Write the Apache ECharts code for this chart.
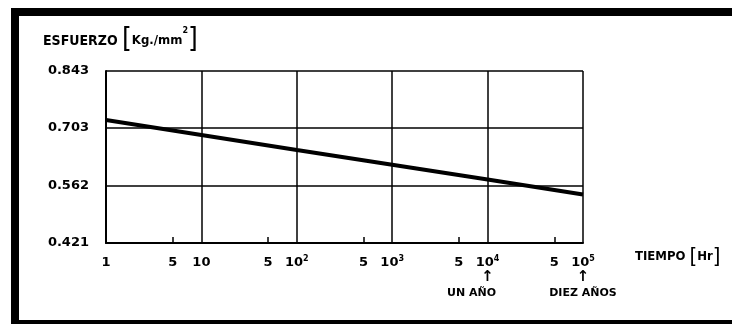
<!DOCTYPE html>
<html>
<head>
<meta charset="utf-8">
<script src="https://cdn.jsdelivr.net/npm/echarts@6/dist/echarts.min.js"></script>
<style>
html, body { margin: 0; padding: 0; background: #fff; }
#chart { width: 732px; height: 324px; }
</style>
</head>
<body>
<div id="chart"></div>
<script>
// tiempo [Hr] y esfuerzo [Kg./mm2]
const tiempo = [1, 10, 100, 1000, 10000, 100000];
const esfuerzo = [0.723, 0.686, 0.649, 0.613, 0.577, 0.540];

const yTicks = [0.421, 0.562, 0.703, 0.843];
const yTickLabels = ['0.421', '0.562', '0.703', '0.843'];

const xDecadeLabels = [
  '1', '10', '10{s|2}', '10{s|3}',
  '10{s|4}\n{ar|↑}\n{an1|UN AÑO}',
  '10{s|5}\n{ar|↑}\n{an|DIEZ AÑOS}'
];
const xMinorTicks = [5, 50, 500, 5000, 50000];
const xMinorLabel = '5';

const FONT = 'DejaVu Sans';
const FONT_C = 'DejaVu Sans Condensed';
const chart = echarts.init(document.getElementById('chart'));

const labelStyle = { color: '#000', fontFamily: FONT, fontSize: 13, fontWeight: 'bold' };

const option = {
  animation: false,
  backgroundColor: '#fff',
  title: {
    text: 'ESFUERZO {br|[}{u|Kg./mm}{s|2}{br|]}',
    left: 38,
    top: 22,
    textStyle: {
      color: '#000', fontFamily: FONT_C, fontSize: 14, fontWeight: 'bold',
      rich: {
        br: { fontSize: 28, fontWeight: 'normal', color: '#000', fontFamily: FONT_C },
        u: { fontSize: 13, fontWeight: 'bold', color: '#000', fontFamily: FONT_C },
        s: { fontSize: 8, fontWeight: 'bold', color: '#000', fontFamily: FONT, verticalAlign: 'top', padding: [0, 0, 12, 0] }
      }
    }
  },
  grid: { left: 106, right: 149, top: 71, bottom: 81 },
  graphic: [
    { type: 'rect', shape: { x: 11, y: 8, width: 721, height: 8 }, style: { fill: '#000' } },
    { type: 'rect', shape: { x: 11, y: 8, width: 8, height: 316 }, style: { fill: '#000' } },
    { type: 'rect', shape: { x: 11, y: 320, width: 721, height: 4 }, style: { fill: '#000' } }
  ],
  xAxis: [
    {
      type: 'log',
      logBase: 10,
      min: 1,
      max: 100000,
      name: 'TIEMPO {br|[}Hr{br|]}',
      nameLocation: 'end',
      nameGap: 52,
      nameTextStyle: {
        color: '#000', fontFamily: FONT_C, fontSize: 13, fontWeight: 'bold',
        verticalAlign: 'top', padding: [3, 0, 0, 0],
        rich: {
          br: { fontSize: 22, fontWeight: 'normal', color: '#000', fontFamily: FONT_C }
        }
      },
      axisLine: { show: true, lineStyle: { color: '#000', width: 2 } },
      axisTick: { show: false },
      splitLine: { show: true, lineStyle: { color: '#000', width: 1.5 } },
      axisLabel: Object.assign({}, labelStyle, {
        margin: 12,
        lineHeight: 15,
        formatter: function (v) {
          return xDecadeLabels[Math.round(Math.log10(v))];
        },
        rich: {
          s: { fontSize: 8, fontWeight: 'bold', color: '#000', fontFamily: FONT, verticalAlign: 'top', padding: [0, 0, 8, 0] },
          ar: { fontSize: 15, color: '#000', fontFamily: FONT, lineHeight: 15 },
          an: { fontSize: 11, fontWeight: 'bold', color: '#000', fontFamily: FONT, lineHeight: 17 },
          an1: { fontSize: 11, fontWeight: 'bold', color: '#000', fontFamily: FONT, lineHeight: 17, padding: [0, 32, 0, 0] }
        }
      })
    },
    {
      type: 'log',
      logBase: 10,
      min: 1,
      max: 100000,
      position: 'bottom',
      axisLine: { show: false },
      splitLine: { show: false },
      axisTick: { show: true, inside: true, length: 6, customValues: xMinorTicks, lineStyle: { color: '#000', width: 1.5 } },
      axisLabel: Object.assign({}, labelStyle, {
        margin: 13,
        customValues: xMinorTicks,
        formatter: function () { return xMinorLabel; }
      })
    }
  ],
  yAxis: {
    type: 'value',
    min: 0.421,
    max: 0.843,
    axisLine: { show: true, lineStyle: { color: '#000', width: 2 } },
    axisTick: { show: false, customValues: yTicks },
    splitLine: { show: true, lineStyle: { color: '#000', width: 1.5 } },
    axisLabel: Object.assign({}, labelStyle, {
      margin: 17,
      customValues: yTicks,
      formatter: function (v) {
        return yTickLabels[yTicks.indexOf(v)];
      }
    })
  },
  series: [
    {
      type: 'line',
      xAxisIndex: 0,
      data: tiempo.map((t, i) => [t, esfuerzo[i]]),
      symbol: 'none',
      lineStyle: { color: '#000', width: 4 }
    }
  ]
};

chart.setOption(option);
</script>
</body>
</html>
